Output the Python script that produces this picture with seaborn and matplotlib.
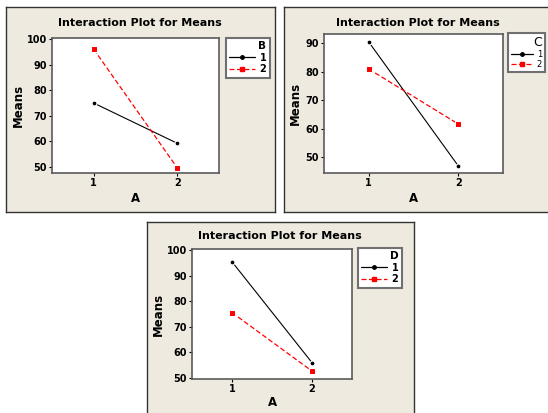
import pandas as pd
import matplotlib.pyplot as plt
import seaborn as sns
from matplotlib.lines import Line2D

# data (means for each level of A)
levels_a = [1, 2]
means_b1 = [75.0, 59.3]
means_b2 = [96.0, 49.7]
means_c1 = [90.5, 47.0]
means_c2 = [81.0, 61.7]
means_d1 = [95.5, 56.0]
means_d2 = [75.6, 52.7]

W, H = 548, 413
BEIGE = "#EEEAE0"
EDGE = "#5a5a5a"

sns.set_theme(style="white")
plt.rcParams["font.family"] = ["DejaVu Sans"]
plt.rcParams["text.color"] = "black"
plt.rcParams["xtick.color"] = "black"
plt.rcParams["ytick.color"] = "black"

fig = plt.figure(figsize=(W / 100, H / 100), dpi=100)
fig.patch.set_facecolor("white")


def px_rect(x, y, w, h):
    return [x / W, 1 - (y + h) / H, w / W, h / H]


def panel(box, axbox, legxy, factor, m1, m2, ylim, yticks, title_xy, ylab_x, xlab_y,
          leg_bold=True, leg_title_size=7.5, leg_label_size=7):
    # beige background panel
    bg = fig.add_axes(px_rect(*box), zorder=-5)
    bg.set_xticks([])
    bg.set_yticks([])
    bg.set_facecolor(BEIGE)
    for s in bg.spines.values():
        s.set_color("#333333")
        s.set_linewidth(1.0)

    ax = fig.add_axes(px_rect(*axbox), zorder=1)
    df = pd.DataFrame({
        "A": levels_a * 2,
        "Means": m1 + m2,
        factor: ["1", "1", "2", "2"],
    })
    sns.lineplot(data=df, x="A", y="Means", hue=factor, style=factor,
                 palette={"1": "black", "2": "red"},
                 markers={"1": "o", "2": "s"},
                 dashes={"1": "", "2": (4, 2)},
                 markersize=4.2, linewidth=0.9, ax=ax, legend=False)
    for l in ax.lines:
        if l.get_color() == "black":
            l.set_markersize(3.5)
            l.set_linewidth(0.8)
    ax.set_xlim(0.5, 2.5)
    ax.set_ylim(*ylim)
    ax.set_xticks(levels_a)
    ax.set_yticks(yticks)
    ax.set_xticklabels(["1", "2"], fontsize=7, fontweight="bold")
    ax.set_yticklabels([str(t) for t in yticks], fontsize=7, fontweight="bold")
    ax.tick_params(axis="both", length=2, width=0.8, pad=1.5, colors="black",
                   bottom=True, left=True, direction="out")
    for s in ax.spines.values():
        s.set_color(EDGE)
        s.set_linewidth(1.2)
    ax.set_facecolor("white")
    ax.set_xlabel("")
    ax.set_ylabel("")

    fig.text(title_xy[0] / W, 1 - title_xy[1] / H, "Interaction Plot for Means",
             ha="center", va="center", fontsize=8, fontweight="bold")
    ymid = axbox[1] + axbox[3] / 2
    fig.text(ylab_x / W, 1 - ymid / H, "Means", rotation=90, ha="center",
             va="center", fontsize=8.5, fontweight="bold")
    fig.text((axbox[0] + axbox[2] / 2) / W, 1 - xlab_y / H, "A",
             ha="center", va="center", fontsize=8.5, fontweight="bold")

    handles = [
        Line2D([], [], color="black", marker="o", markersize=2.5, linewidth=0.9),
        Line2D([], [], color="red", marker="s", markersize=3.5, linewidth=0.9,
               linestyle=(0, (4, 2))),
    ]
    weight = "bold" if leg_bold else "normal"
    leg = fig.legend(handles, ["1", "2"], title=factor,
                     loc="upper left",
                     bbox_to_anchor=(legxy[0] / W, 1 - legxy[1] / H),
                     frameon=True, fancybox=False, shadow=False, framealpha=1,
                     borderaxespad=0,
                     handlelength=2.6, handletextpad=0.5, borderpad=0.35,
                     labelspacing=0.15, alignment="right",
                     prop={"size": leg_label_size, "weight": weight},
                     title_fontproperties={"size": leg_title_size, "weight": weight})
    fr = leg.get_frame()
    fr.set_edgecolor("#707070")
    fr.set_linewidth(1.5)
    fr.set_facecolor("white")
    return ax


panel((6, 7, 269, 205), (52, 38, 167, 135), (226, 38), "B",
      means_b1, means_b2, (47.7, 100.4), [50, 60, 70, 80, 90, 100],
      (140, 23), 18, 198)

panel((284, 7, 268, 205), (324, 34, 179, 139), (508, 33), "C",
      means_c1, means_c2, (44.5, 93.3), [50, 60, 70, 80, 90],
      (418, 23), 295, 198, leg_bold=False, leg_title_size=9, leg_label_size=6)

panel((147, 222, 267, 200), (192, 249, 160, 130), (358, 248), "D",
      means_d1, means_d2, (49.6, 100.5), [50, 60, 70, 80, 90, 100],
      (280, 236), 158, 402)

fig.savefig("out.png", dpi=100)
